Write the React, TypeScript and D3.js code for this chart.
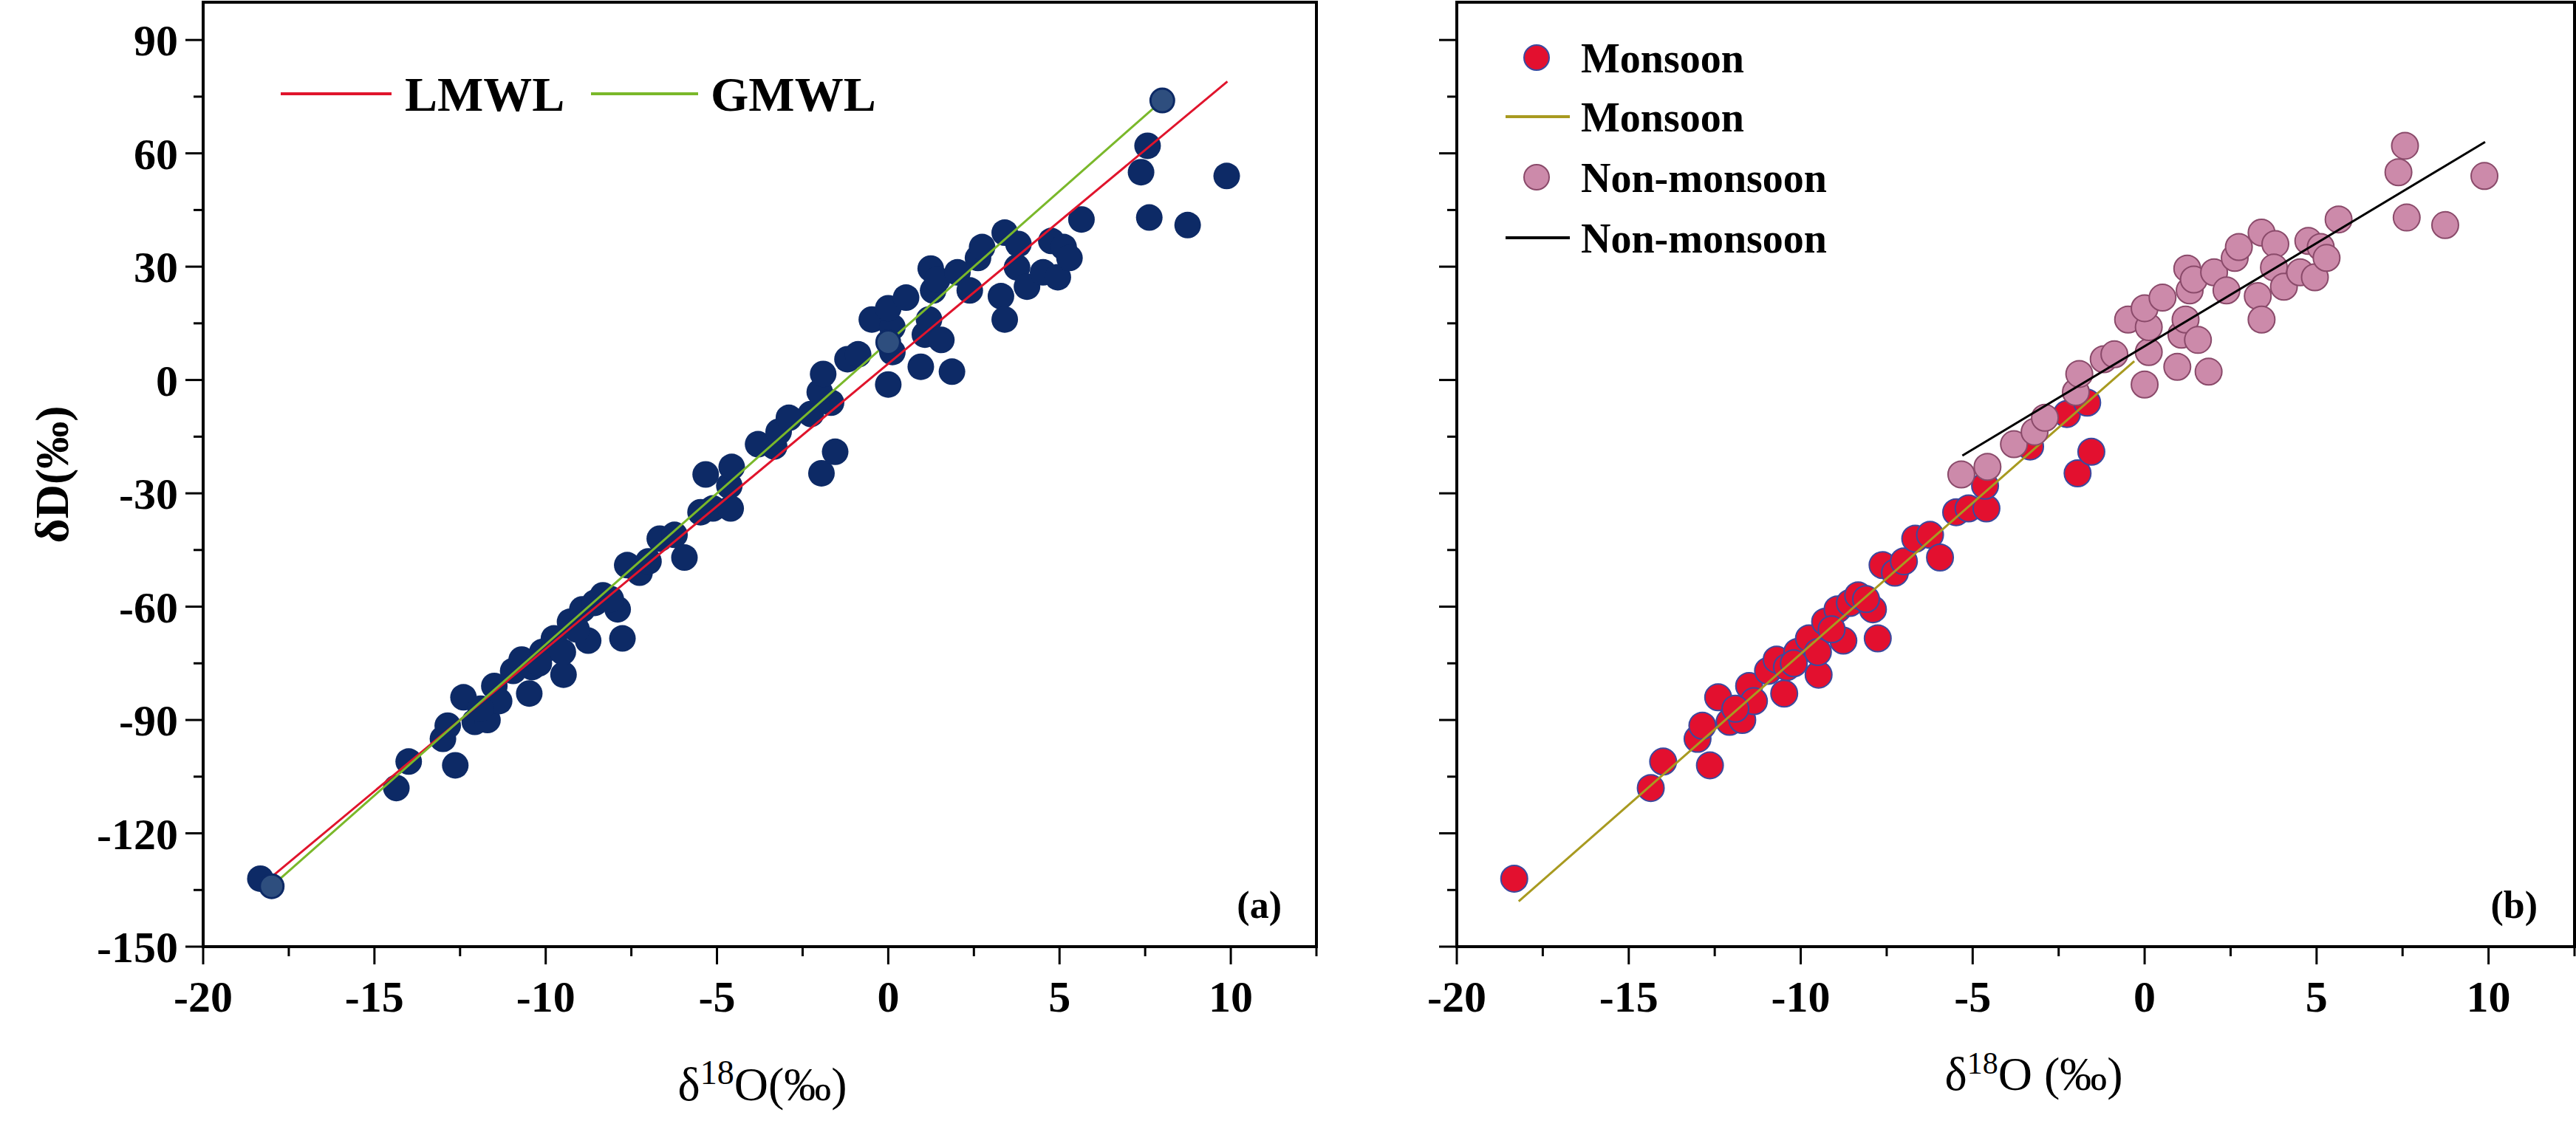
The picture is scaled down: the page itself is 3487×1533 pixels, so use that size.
import * as d3 from "d3";

const monsoonX = [-18.33, -14.36, -14.0, -12.64, -13.0, -12.86, -12.4, -12.07, -11.7, -11.5, -11.36, -10.95, -10.7, -10.48, -10.4, -10.1, -9.76, -9.48, -9.5, -9.29, -8.93, -8.76, -8.57, -8.33, -7.9, -7.76, -7.62, -7.26, -7.0, -6.67, -6.24, -5.95, -5.48, -5.12, -4.6, -4.64, -3.33, -2.26, -1.95, -1.55, -1.67, -11.9, -10.2, -9.1, -8.1];
const monsoonY = [-132, -108, -101, -102, -95, -91.5, -84, -90.5, -90, -81, -85, -77, -74, -83, -76, -72, -68.4, -78, -72, -64, -60.7, -69, -59, -57, -60.7, -68.4, -49, -51, -48, -42, -41, -47, -35, -34, -34, -28, -17.6, -9, -24.7, -19, -6, -87, -75, -66, -58];
const nonX = [-5.33, -4.57, -3.8, -3.2, -2.9, -2.0, -1.9, -1.19, -0.88, -0.48, 0, 0.12, 0.12, 0, 0.52, 0.95, 1.07, 1.19, 1.24, 1.31, 1.43, 1.55, 1.86, 2.02, 2.38, 2.62, 2.74, 3.29, 3.4, 3.4, 3.8, 3.76, 4.05, 4.52, 4.76, 4.95, 5.12, 5.29, 5.64, 7.38, 7.57, 7.62, 8.74, 9.88];
const nonY = [-25, -23, -17, -13.7, -10, -3.2, 1.6, 5.5, 6.8, 16, -1.2, 7.4, 14, 19, 21.8, 3.5, 12, 16, 29.5, 23.7, 26.6, 10.6, 2.2, 28.5, 23.7, 32.3, 35.2, 22.2, 16, 39, 36, 29.8, 24.7, 28.5, 36.8, 27.2, 35.2, 32.3, 42.5, 55, 62, 43, 41, 54];

const lmwl = [[-18.2, -133], [9.9, 79]];
const gmwl = [[-18, -134], [8, 74]];
const gmwlMarks = [[-18, -134], [0, 10], [8, 74]];
const monsoonLine = [[-18.2, -138], [-0.3, 5]];
const nonLine = [[-5.3, -20], [9.9, 63]];

const yTicks = [-150, -120, -90, -60, -30, 0, 30, 60, 90];
const xTicks = [-20, -15, -10, -5, 0, 5, 10];

const W = 3487, H = 1533;
const top = 3, bottom = 1282;
const y = d3.scaleLinear([-150, 100], [bottom, top]);
const xa = d3.scaleLinear([-20, 12.5], [275, 1782]);
const xb = d3.scaleLinear([-20, 12.5], [1972, 3485]);
const font = "'Liberation Serif', 'Times New Roman', serif";

function Frame({ x, labels }: { x: d3.ScaleLinear<number, number>; labels: boolean }) {
  const [x0, x1] = x.range();
  const minorX = d3.range(-20, 12.6, 2.5);
  const minorY = d3.range(-150, 100.1, 15);
  return (
    <g>
      <rect x={x0} y={top} width={x1 - x0} height={bottom - top} fill="none" stroke="#000" strokeWidth={4} />
      {minorY.map((v) => (
        <line key={"y" + v} x1={x0} x2={x0 - (v % 30 === 0 ? 24 : 13)} y1={y(v)} y2={y(v)} stroke="#000" strokeWidth={3} />
      ))}
      {minorX.map((v) => (
        <line key={"x" + v} y1={bottom} y2={bottom + (v % 5 === 0 ? 24 : 13)} x1={x(v)} x2={x(v)} stroke="#000" strokeWidth={3} />
      ))}
      {labels && yTicks.map((v) => (
        <text key={"ly" + v} x={x0 - 34} y={y(v)} dy="0.35em" textAnchor="end" fontSize={60} fontWeight="bold" fontFamily={font}>{v}</text>
      ))}
      {xTicks.map((v) => (
        <text key={"lx" + v} x={x(v)} y={bottom + 88} textAnchor="middle" fontSize={60} fontWeight="bold" fontFamily={font}>{v}</text>
      ))}
    </g>
  );
}

const seg = (x: d3.ScaleLinear<number, number>, p: number[][]) =>
  d3.line<number[]>().x((d) => x(d[0])).y((d) => y(d[1]))(p) || "";

export default function App() {
  const allX = [...monsoonX, ...nonX];
  const allY = [...monsoonY, ...nonY];
  return (
    <svg width={W} height={H} style={{ position: "absolute", left: 0, top: 0, background: "#fff" }}>
      <Frame x={xa} labels={true} />
      <Frame x={xb} labels={false} />
      {/* panel a */}
      {allX.map((v, i) => (
        <circle key={"a" + i} cx={xa(v)} cy={y(allY[i])} r={18} fill="#0d2a66" />
      ))}
      <path d={seg(xa, lmwl)} stroke="#e0142c" strokeWidth={3} fill="none" />
      <path d={seg(xa, gmwl)} stroke="#7ab82a" strokeWidth={3} fill="none" />
      {gmwlMarks.map((p, i) => (
        <circle key={"g" + i} cx={xa(p[0])} cy={y(p[1])} r={16} fill="#2e4e7e" stroke="#0d2a66" strokeWidth={3} />
      ))}
      <line x1={380} x2={530} y1={127} y2={127} stroke="#e0142c" strokeWidth={4} />
      <text x={548} y={127} dy="0.35em" fontSize={66} fontWeight="bold" fontFamily={font}>LMWL</text>
      <line x1={800} x2={945} y1={127} y2={127} stroke="#7ab82a" strokeWidth={4} />
      <text x={962} y={127} dy="0.35em" fontSize={66} fontWeight="bold" fontFamily={font}>GMWL</text>
      <text x={1735} y={1225} dy="0.35em" textAnchor="end" fontSize={52} fontWeight="bold" fontFamily={font}>(a)</text>
      <text transform={`translate(70,${y(-25)}) rotate(-90)`} textAnchor="middle" dy="0.35em" fontSize={64} fontWeight="bold" fontFamily={font}>δD(‰)</text>
      <text x={1032} y={1490} textAnchor="middle" fontSize={64} fontFamily={font}>δ<tspan fontSize={46} dy={-22}>18</tspan><tspan dy={22}>O(‰)</tspan></text>
      {/* panel b */}
      {monsoonX.map((v, i) => (
        <circle key={"m" + i} cx={xb(v)} cy={y(monsoonY[i])} r={18} fill="#e3102f" stroke="#3a4aa0" strokeWidth={2} />
      ))}
      <path d={seg(xb, monsoonLine)} stroke="#a89a20" strokeWidth={3} fill="none" />
      {nonX.map((v, i) => (
        <circle key={"n" + i} cx={xb(v)} cy={y(nonY[i])} r={18} fill="#cc8aaa" stroke="#8a4a6a" strokeWidth={2} />
      ))}
      <path d={seg(xb, nonLine)} stroke="#000" strokeWidth={3} fill="none" />
      <circle cx={2080} cy={78} r={17} fill="#e3102f" stroke="#3a4aa0" strokeWidth={2} />
      <text x={2140} y={78} dy="0.35em" fontSize={56} fontWeight="bold" fontFamily={font}>Monsoon</text>
      <line x1={2038} x2={2125} y1={158} y2={158} stroke="#a89a20" strokeWidth={4} />
      <text x={2140} y={158} dy="0.35em" fontSize={56} fontWeight="bold" fontFamily={font}>Monsoon</text>
      <circle cx={2080} cy={240} r={17} fill="#cc8aaa" stroke="#8a4a6a" strokeWidth={2} />
      <text x={2140} y={240} dy="0.35em" fontSize={56} fontWeight="bold" fontFamily={font}>Non-monsoon</text>
      <line x1={2038} x2={2125} y1={322} y2={322} stroke="#000" strokeWidth={4} />
      <text x={2140} y={322} dy="0.35em" fontSize={56} fontWeight="bold" fontFamily={font}>Non-monsoon</text>
      <text x={3435} y={1225} dy="0.35em" textAnchor="end" fontSize={52} fontWeight="bold" fontFamily={font}>(b)</text>
      <text x={2753} y={1476} textAnchor="middle" fontSize={64} fontFamily={font}>δ<tspan fontSize={42} dy={-22}>18</tspan><tspan dy={22}>O (‰)</tspan></text>
    </svg>
  );
}
